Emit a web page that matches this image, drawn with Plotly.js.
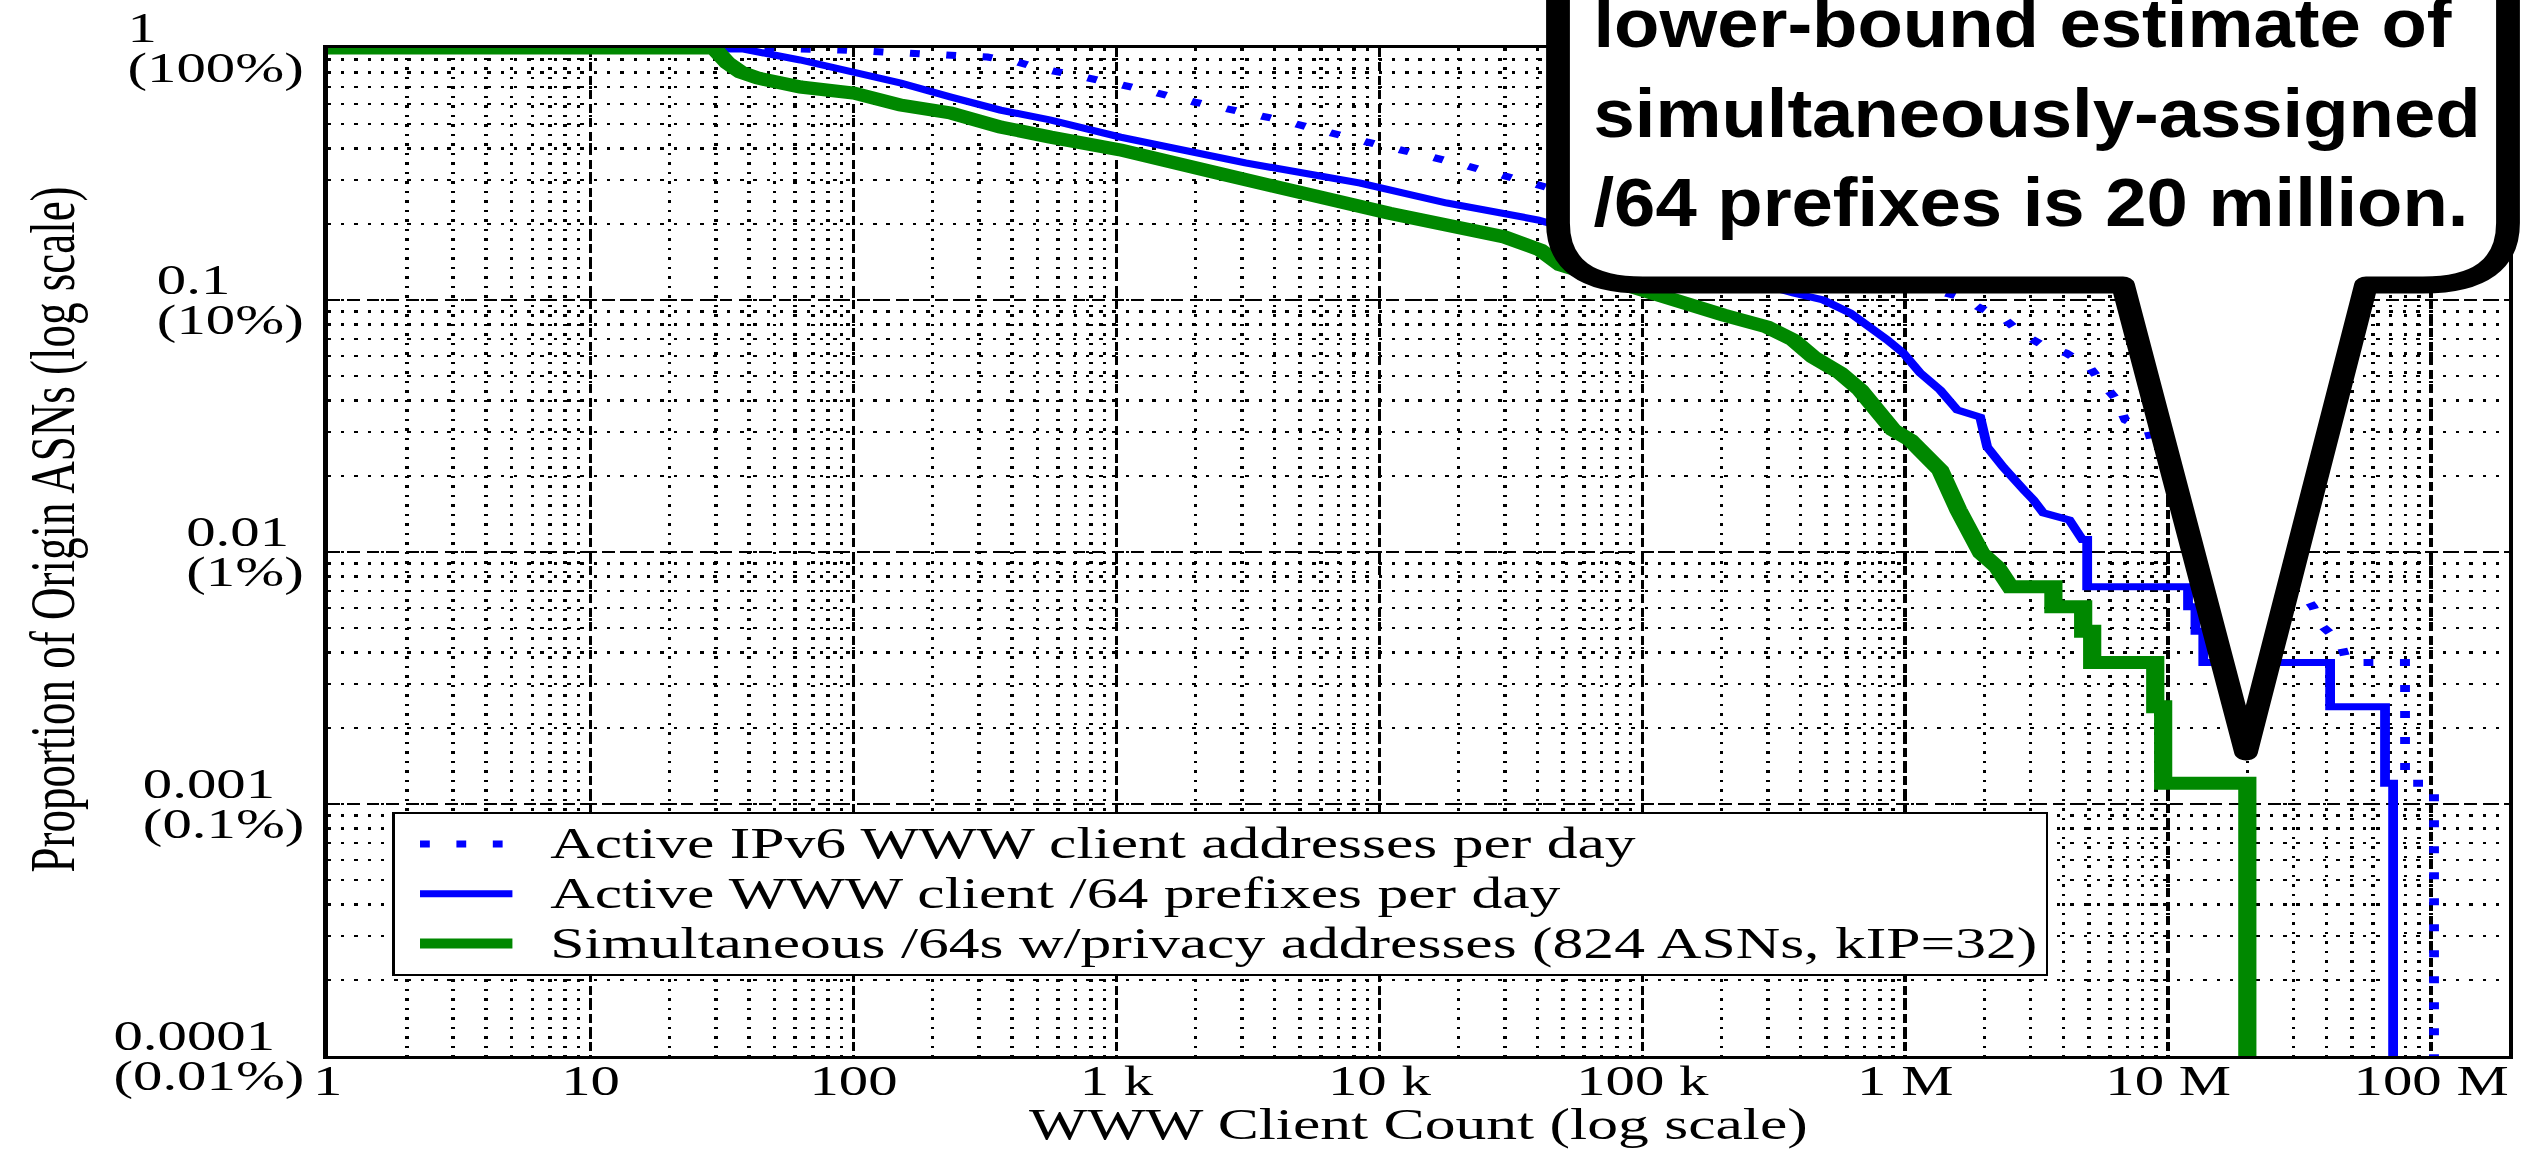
<!DOCTYPE html>
<html>
<head>
<meta charset="utf-8">
<script src="https://cdn.plot.ly/plotly-3.0.1.min.js"></script>
<style>
html,body{margin:0;padding:0;background:#fff;overflow:hidden;}
#wrap{width:2526px;height:1149px;overflow:hidden;position:relative;background:#fff;}
#chart{width:1804px;height:1149px;transform:scaleX(1.400222);transform-origin:0 0;}
</style>
</head>
<body>
<div id="wrap"><div id="chart"></div></div>
<script>
// ---------------- data ----------------
const xTickVals = [1, 10, 100, 1e3, 1e4, 1e5, 1e6, 1e7, 1e8];
const xTickText = ['1', '10', '100', '1 k', '10 k', '100 k', '1 M', '10 M', '100 M'];
const yTickVals = [1, 0.1, 0.01, 0.001, 0.0001];
const yTickTop = ['1', '0.1', '0.01', '0.001', '0.0001'];
const yTickBottom = ['(100%)', '(10%)', '(1%)', '(0.1%)', '(0.01%)'];

const seriesNames = [
  'Active IPv6 WWW client addresses per day',
  'Active WWW client /64 prefixes per day',
  'Simultaneous /64s w/privacy addresses (824 ASNs, kIP=32)'
];

// Active IPv6 WWW client addresses per day (dotted blue)
const addrX = [1, 45.5, 89.3, 169, 240, 323, 420, 528, 687, 925, 1191, 1981, 4204, 8927, 18950, 40250,
  1.62e6, 1.93e6, 2.36e6, 2.74e6, 3.32e6, 4.09e6, 5.01e6, 5.61e6, 6.29e6, 6.87e6, 8.40e6, 8.85e6,
  3.18e7, 3.56e7, 3.88e7, 4.51e7, 4.80e7, 7.96e7, 7.96e7, 1.026e8, 1.026e8];
const addrY = [1, 1, 0.982, 0.955, 0.947, 0.921, 0.880, 0.825, 0.782, 0.733, 0.694, 0.610, 0.518, 0.424, 0.353, 0.286,
  0.1028, 0.0929, 0.0849, 0.074, 0.0663, 0.0616, 0.0542, 0.0469, 0.0408, 0.0334, 0.0305, 0.0254,
  0.00707, 0.00605, 0.00504, 0.00439, 0.00364, 0.00364, 0.00121, 0.00121, 0.00001];

// Active WWW client /64 prefixes per day (solid blue)
const pfxX = [1, 38.2, 62.9, 97.4, 151, 234, 362, 561, 1035, 3092, 8470, 17980, 40250,
  375200, 487700, 617700, 736000, 854600, 982800, 1.14e6, 1.358e6, 1.577e6, 1.928e6, 2.05e6, 2.36e6,
  2.58e6, 2.83e6, 3.07e6, 3.35e6, 4.21e6, 4.71e6, 4.92e6, 4.92e6, 1.19e7, 1.19e7, 1.27e7, 1.27e7,
  1.36e7, 1.36e7, 4.13e7, 4.13e7, 6.68e7, 6.68e7, 7.17e7, 7.17e7];
const pfxY = [1, 0.99, 0.896, 0.803, 0.726, 0.639, 0.567, 0.518, 0.443, 0.350, 0.291, 0.2426, 0.2077,
  0.1066, 0.1, 0.0888, 0.0781, 0.0694, 0.0616, 0.0513, 0.0439, 0.0366, 0.0343, 0.0261, 0.0217,
  0.0193, 0.0176, 0.0161, 0.0143, 0.0134, 0.0112, 0.0112, 0.00728, 0.00728, 0.00607, 0.00607, 0.00485,
  0.00485, 0.00364, 0.00364, 0.00243, 0.00243, 0.00121, 0.00121, 0.00001];

// Simultaneous /64s w/privacy addresses (thick green)
const simX = [1, 29.4, 33.2, 37.2, 43.2, 62.9, 100, 151, 234, 362, 561, 1035, 2421, 6561, 10910, 29870,
  40930, 48750, 114000, 152300, 203200, 298700, 375200, 446700, 566000, 674500, 783000, 900000,
  1.045e6, 1.17e6, 1.358e6, 1.592e6, 1.783e6, 1.946e6, 2.239e6, 2.507e6, 3.66e6, 3.66e6, 4.75e6, 4.75e6,
  5.14e6, 5.14e6, 8.93e6, 8.93e6, 9.57e6, 9.57e6, 2.0e7, 2.0e7];
const simY = [1, 1, 0.872, 0.803, 0.760, 0.700, 0.663, 0.594, 0.552, 0.486, 0.443, 0.394, 0.319, 0.249, 0.221, 0.178,
  0.158, 0.138, 0.1047, 0.0938, 0.0872, 0.0781, 0.0694, 0.0594, 0.0513, 0.0439, 0.0356, 0.0305,
  0.0278, 0.0247, 0.0211, 0.01468, 0.01189, 0.0099, 0.00871, 0.00728, 0.00728, 0.00607, 0.00607, 0.00485,
  0.00485, 0.00364, 0.00364, 0.00243, 0.00243, 0.00121, 0.00121, 0.00001];

const calloutLines = ['lower-bound estimate of', 'simultaneously-assigned', '/64 prefixes is 20 million.'];

// ---------------- layout helpers ----------------
const W = 1804, H = 1149, S = 2526 / W;
const M = {l: 234, r: 12, t: 48, b: 93};
const PX0 = M.l * S, PX1 = (W - M.r) * S, PY0 = M.t, PY1 = H - M.b;
const px = xf => (xf - PX0) / (PX1 - PX0);
const py = yf => (PY1 - yf) / (PY1 - PY0);
const P = (xf, yf) => px(xf).toFixed(5) + ',' + py(yf).toFixed(5);

// callout bubble geometry (pixels of the full picture)
const B = {L: 1558, R: 2508, T: -150, Bt: 285, rx: 85, ry: 62, armL: 2123, armR: 2366, tipX: 2246, tipY: 752};
const bubblePath =
  'M' + P(B.L, B.T) + ' L' + P(B.L, B.Bt - B.ry) + ' Q' + P(B.L, B.Bt) + ' ' + P(B.L + B.rx, B.Bt) +
  ' L' + P(B.armL, B.Bt) + ' L' + P(B.tipX, B.tipY) + ' L' + P(B.armR, B.Bt) +
  ' L' + P(B.R - B.rx, B.Bt) + ' Q' + P(B.R, B.Bt) + ' ' + P(B.R, B.Bt - B.ry) + ' L' + P(B.R, B.T) + ' Z';

const serif = 'Liberation Serif, Times New Roman, serif';
const blue = '#0000ff', green = '#008800';
const big = (t, s) => '<span style="font-size:' + s + 'px">' + t + '</span>';

const traces = [
  {x: addrX, y: addrY, name: seriesNames[0], type: 'scatter', mode: 'lines',
   line: {color: blue, width: 7, dash: '7px,19px'}},
  {x: pfxX, y: pfxY, name: seriesNames[1], type: 'scatter', mode: 'lines',
   line: {color: blue, width: 7}},
  {x: simX, y: simY, name: seriesNames[2], type: 'scatter', mode: 'lines',
   line: {color: green, width: 13}}
];
// legend text drawn larger than the row-spacing font
traces.forEach(t => { t.name = big('&nbsp;&nbsp;' + t.name, 44); });

const gridMajor = {gridcolor: '#000', gridwidth: 2.5, griddash: '9px,5px'};
const gridMinor = {showgrid: true, dtick: 'D1', gridcolor: '#000', gridwidth: 2.5, griddash: '2.5px,7px', ticks: ''};

// two-line y tick labels, lines packed tighter than default line spacing
const yLabelAnn = yTickVals.map((v, i) => ({
  xref: 'paper', yref: 'y', x: 0, y: Math.log10(v), xanchor: 'right', yanchor: 'middle',
  xshift: -15, align: 'left', showarrow: false,
  text: big(yTickTop[i], 42) + '<br>' + big(yTickBottom[i], 42),
  font: {family: serif, size: 31, color: '#000'}
}));

const calloutAnn = {
  xref: 'paper', yref: 'paper', x: px(1590), y: py(242), xanchor: 'left', yanchor: 'bottom',
  align: 'left', showarrow: false,
  text: calloutLines.map(s => '<b>' + big(s, 68) + '</b>').join('<br>'),
  font: {family: 'Liberation Sans, Arial, Helvetica, sans-serif', size: 69, color: '#000'}
};

const layout = {
  width: W, height: H,
  margin: M,
  paper_bgcolor: '#fff', plot_bgcolor: '#fff',
  showlegend: true,
  legend: {
    x: px(392), y: py(812), xanchor: 'left', yanchor: 'top',
    bgcolor: '#fff', bordercolor: '#000', borderwidth: 2,
    font: {family: serif, size: 36, color: '#000'},
    itemwidth: 66, indentation: 13, traceorder: 'normal'
  },
  xaxis: Object.assign({
    type: 'log', range: [0, 8.297], tickmode: 'array', tickvals: xTickVals, ticktext: xTickText,
    showgrid: true, showline: true, mirror: true, linecolor: '#000', linewidth: 3, ticks: '',
    tickfont: {family: serif, size: 42, color: '#000'},
    ticklabelstandoff: -14,
    title: {text: 'WWW Client Count (log scale)', font: {family: serif, size: 44, color: '#000'}, standoff: 14},
    minor: gridMinor, automargin: false, zeroline: false
  }, gridMajor),
  yaxis: Object.assign({
    type: 'log', range: [-4, 0], tickmode: 'array', tickvals: yTickVals, ticktext: yTickTop,
    showticklabels: false, showgrid: true, showline: true, mirror: true, linecolor: '#000', linewidth: 3, ticks: '',
    // leading no-break spaces shift the centred title upward, as in the original
    title: {text: '&nbsp;&nbsp;&nbsp;&nbsp;Proportion of Origin ASNs (log scale)',
            font: {family: serif, size: 45, color: '#000'}, standoff: 164},
    minor: gridMinor, automargin: false, zeroline: false
  }, gridMajor),
  shapes: [{
    type: 'path', xref: 'paper', yref: 'paper', path: bubblePath,
    fillcolor: '#fff', line: {color: '#000', width: 17}, layer: 'above'
  }],
  annotations: yLabelAnn.concat([calloutAnn])
};

Plotly.newPlot('chart', traces, layout, {staticPlot: true, displayModeBar: false}).then(() => {
  document.querySelectorAll('#chart .shapelayer path').forEach(p => {
    p.style.strokeLinejoin = 'round';
  });
  // condensed lettering for the callout (narrow bold face)
  const ann = document.querySelector('#chart .annotation[data-index="' + yLabelAnn.length + '"] text');
  if (ann) {
    ann.style.transformBox = 'fill-box';
    ann.style.transformOrigin = '0% 50%';
    ann.style.transform = 'scaleX(0.78)';
  }
});
</script>
</body>
</html>
